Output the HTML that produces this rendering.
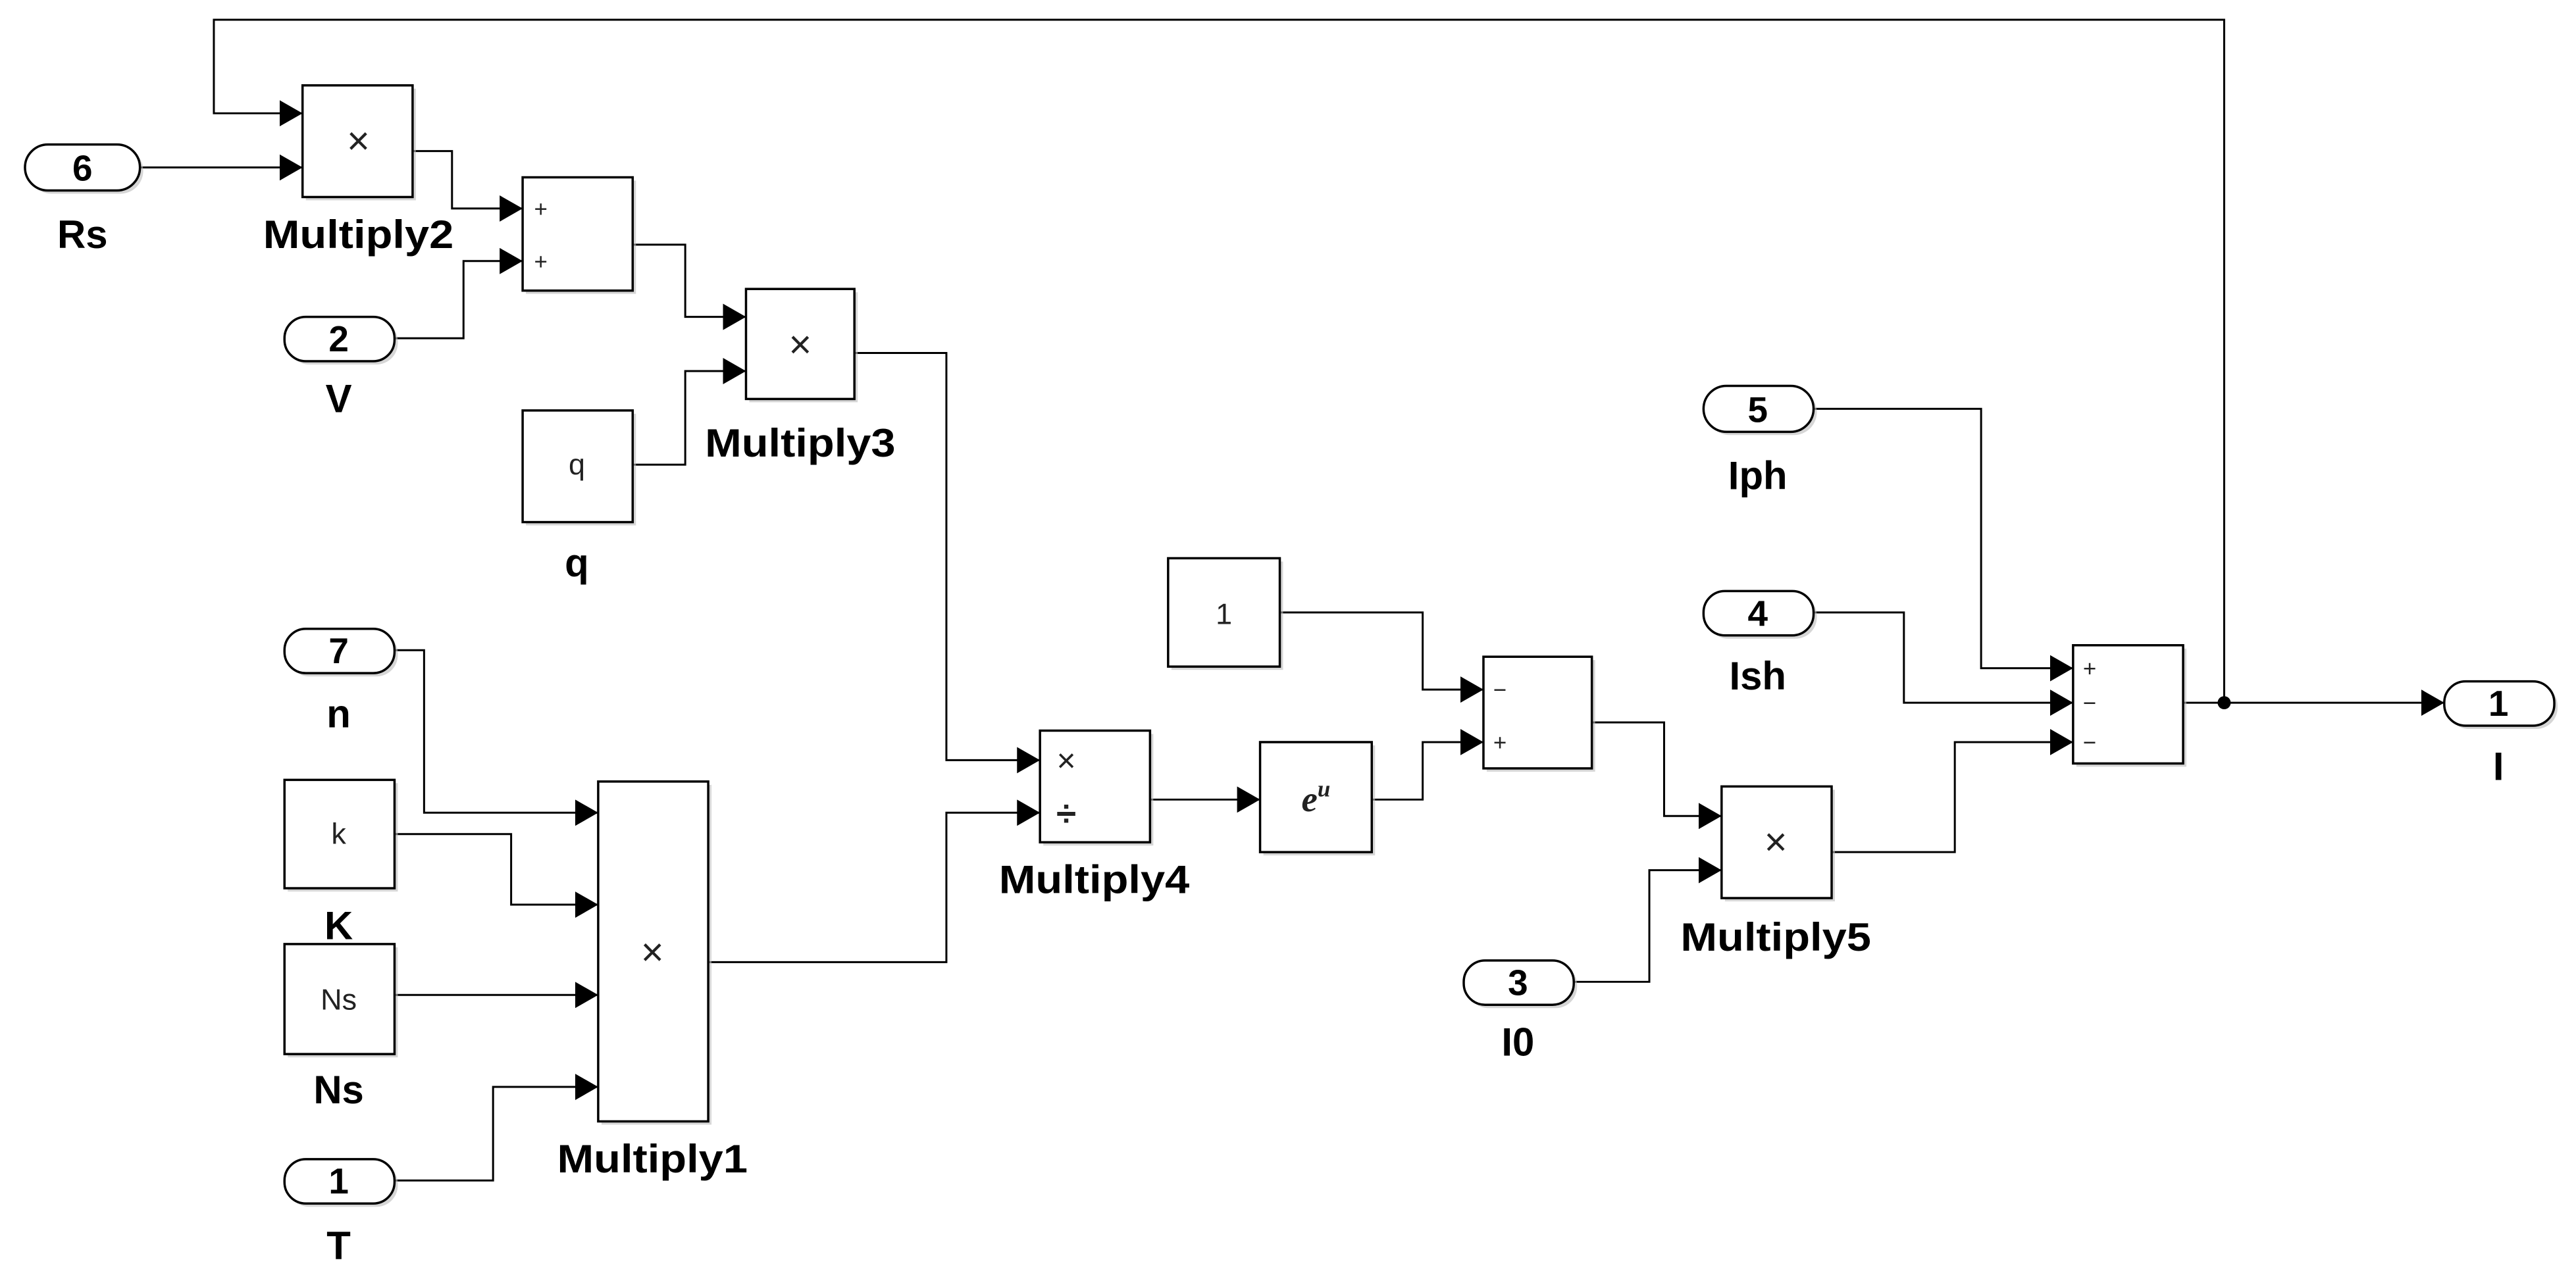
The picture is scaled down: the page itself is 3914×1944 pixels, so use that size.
<!DOCTYPE html>
<html><head><meta charset="utf-8"><style>html,body{margin:0;padding:0;background:#fff}svg{display:block}</style></head><body>
<svg width="3914" height="1944" viewBox="0 0 1568 779" xmlns="http://www.w3.org/2000/svg" font-family="Liberation Sans, Arial, sans-serif">
<defs>
<marker id="a" markerWidth="16" markerHeight="16" refX="14" refY="8" orient="auto" markerUnits="userSpaceOnUse"><path d="M0,0 L14,8 L0,16 Z" fill="#000"/></marker>
</defs>
<g fill="none" stroke="#000" stroke-width="1.2">
<polyline points="1354,428 1354,12 130,12 130,69 184,69" marker-end="url(#a)"/>
<polyline points="85,102 184,102" marker-end="url(#a)"/>
<polyline points="251,92 275,92 275,127 318,127" marker-end="url(#a)"/>
<polyline points="240,206 282,206 282,159 318,159" marker-end="url(#a)"/>
<polyline points="385,149 417,149 417,193 454,193" marker-end="url(#a)"/>
<polyline points="385,283 417,283 417,226 454,226" marker-end="url(#a)"/>
<polyline points="520,215 576,215 576,463 633,463" marker-end="url(#a)"/>
<polyline points="431,586 576,586 576,495 633,495" marker-end="url(#a)"/>
<polyline points="240,396 258,396 258,495 364,495" marker-end="url(#a)"/>
<polyline points="240,508 311,508 311,551 364,551" marker-end="url(#a)"/>
<polyline points="240,606 364,606" marker-end="url(#a)"/>
<polyline points="240,719 300,719 300,662 364,662" marker-end="url(#a)"/>
<polyline points="700,487 767,487" marker-end="url(#a)"/>
<polyline points="835,487 866,487 866,452 903,452" marker-end="url(#a)"/>
<polyline points="779,373 866,373 866,420 903,420" marker-end="url(#a)"/>
<polyline points="969,440 1013,440 1013,497 1048,497" marker-end="url(#a)"/>
<polyline points="958,598 1004,598 1004,530 1048,530" marker-end="url(#a)"/>
<polyline points="1115,519 1190,519 1190,452 1262,452" marker-end="url(#a)"/>
<polyline points="1104,249 1206,249 1206,407 1262,407" marker-end="url(#a)"/>
<polyline points="1104,373 1159,373 1159,428 1262,428" marker-end="url(#a)"/>
<polyline points="1329,428 1488,428" marker-end="url(#a)"/>
</g>
<circle cx="1354" cy="428" r="4" fill="#000"/>
<g fill="#bbb" opacity="0.6">
<rect x="186" y="54" width="67" height="68"/><rect x="320" y="110" width="67" height="69"/><rect x="456" y="178" width="66" height="67"/><rect x="320" y="252" width="67" height="68"/><rect x="366" y="478" width="67" height="207"/><rect x="175" y="477" width="67" height="66"/><rect x="175" y="577" width="67" height="67"/><rect x="635" y="447" width="67" height="68"/><rect x="769" y="454" width="68" height="67"/><rect x="713" y="342" width="68" height="66"/><rect x="905" y="402" width="66" height="68"/><rect x="1050" y="481" width="67" height="68"/><rect x="1264" y="395" width="67" height="72"/>
<rect x="17" y="90" width="70" height="28" rx="14"/><rect x="175" y="195" width="67" height="27" rx="13"/><rect x="175" y="385" width="67" height="27" rx="13"/><rect x="175" y="708" width="67" height="27" rx="13"/><rect x="893" y="587" width="67" height="27" rx="13"/><rect x="1039" y="237" width="67" height="28" rx="14"/><rect x="1039" y="362" width="67" height="27" rx="13"/><rect x="1490" y="417" width="67" height="27" rx="13"/>
</g>
<g fill="#fff" stroke="#000" stroke-width="1.4">
<rect x="184" y="52" width="67" height="68"/><rect x="318" y="108" width="67" height="69"/><rect x="454" y="176" width="66" height="67"/><rect x="318" y="250" width="67" height="68"/><rect x="364" y="476" width="67" height="207"/><rect x="173" y="475" width="67" height="66"/><rect x="173" y="575" width="67" height="67"/><rect x="633" y="445" width="67" height="68"/><rect x="767" y="452" width="68" height="67"/><rect x="711" y="340" width="68" height="66"/><rect x="903" y="400" width="66" height="68"/><rect x="1048" y="479" width="67" height="68"/><rect x="1262" y="393" width="67" height="72"/>
<rect x="15" y="88" width="70" height="28" rx="14"/><rect x="173" y="193" width="67" height="27" rx="13"/><rect x="173" y="383" width="67" height="27" rx="13"/><rect x="173" y="706" width="67" height="27" rx="13"/><rect x="891" y="585" width="67" height="27" rx="13"/><rect x="1037" y="235" width="67" height="28" rx="14"/><rect x="1037" y="360" width="67" height="27" rx="13"/><rect x="1488" y="415" width="67" height="27" rx="13"/>
</g>
<g font-size="24" text-anchor="middle" fill="#222">
<text x="218" y="94">×</text><text x="487" y="218">×</text><text x="397" y="588">×</text><text x="1081" y="521">×</text>
<text x="351" y="289" font-size="18">q</text><text x="206" y="514" font-size="18">k</text><text x="206" y="615" font-size="18">Ns</text><text x="745" y="380" font-size="18">1</text>
<text x="649" y="470" font-size="20">×</text><text x="649" y="503" font-size="22" font-weight="bold">÷</text>
<text x="801" y="494" font-family="Liberation Serif, serif" font-style="italic" font-weight="bold" font-size="22">e<tspan font-size="14" dy="-9">u</tspan></text>
</g>
<g font-size="14" fill="#222">
<text x="325" y="132">+</text><text x="325" y="164">+</text>
<text x="909" y="425">−</text><text x="909" y="457">+</text>
<text x="1268" y="412">+</text><text x="1268" y="433">−</text><text x="1268" y="457">−</text>
</g>
<g font-size="22" font-weight="bold" text-anchor="middle" fill="#000">
<text x="50" y="110">6</text><text x="206" y="214">2</text><text x="206" y="404">7</text><text x="206" y="727">1</text><text x="924" y="606">3</text><text x="1070" y="257">5</text><text x="1070" y="381">4</text><text x="1521" y="436">1</text>
</g>
<g font-size="24" font-weight="bold" text-anchor="middle" fill="#000">
<text x="50" y="151">Rs</text><text x="218" y="151" textLength="116" lengthAdjust="spacingAndGlyphs">Multiply2</text><text x="206" y="251">V</text><text x="351" y="351">q</text><text x="487" y="278" textLength="116" lengthAdjust="spacingAndGlyphs">Multiply3</text>
<text x="206" y="443">n</text><text x="206" y="572">K</text><text x="206" y="672">Ns</text><text x="206" y="767">T</text><text x="397" y="714" textLength="116" lengthAdjust="spacingAndGlyphs">Multiply1</text>
<text x="666" y="544" textLength="116" lengthAdjust="spacingAndGlyphs">Multiply4</text><text x="1081" y="579" textLength="116" lengthAdjust="spacingAndGlyphs">Multiply5</text><text x="924" y="643">I0</text>
<text x="1070" y="298">Iph</text><text x="1070" y="420">Ish</text><text x="1521" y="475">I</text>
</g>
</svg>
</body></html>
